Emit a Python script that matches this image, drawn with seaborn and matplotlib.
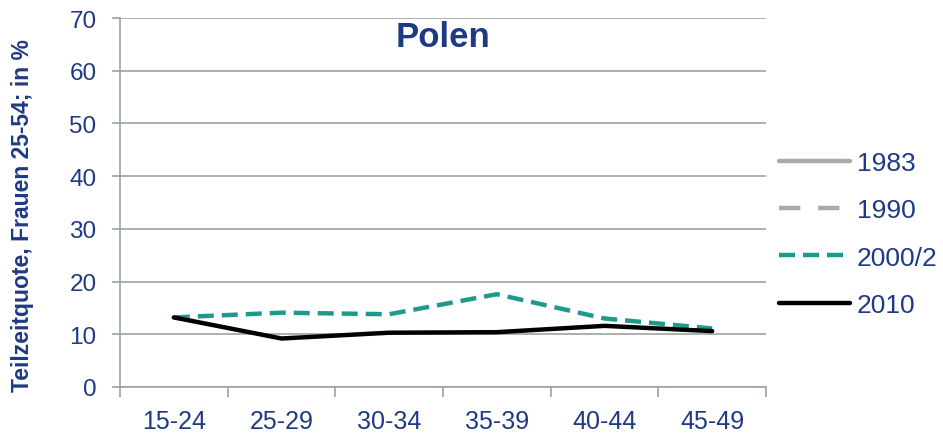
import numpy as np
import pandas as pd
import matplotlib
matplotlib.use("Agg")
import matplotlib.pyplot as plt
from matplotlib.lines import Line2D
import seaborn as sns

# Age groups and part-time rates (women, in %)
age_groups = ["15-24", "25-29", "30-34", "35-39", "40-44", "45-49"]
years = ["1983", "1990", "2000/2", "2010"]
rate_1983 = [np.nan] * 6
rate_1990 = [np.nan] * 6
rate_2000 = [13.2, 14.1, 13.8, 17.6, 13.0, 11.1]
rate_2010 = [13.2, 9.2, 10.3, 10.4, 11.6, 10.6]
y_ticks = [0, 10, 20, 30, 40, 50, 60, 70]

navy = "#1f3a84"
teal = "#1e9a8c"
grey = "#a7abab"
axis_grey = "#9aa3a3"

sns.set_theme(style="white")
plt.rcParams["font.family"] = ["Liberation Sans", "DejaVu Sans"]

fig = plt.figure(figsize=(9.43, 4.39), dpi=100)
ax = fig.add_axes([120 / 943, 1 - 388 / 439, 646 / 943, 369 / 439])

x = np.arange(len(age_groups))
series = {
    "1983": (rate_1983, dict(color=grey, linestyle="-")),
    "1990": (rate_1990, dict(color=grey, linestyle=(0, (4.8, 4.0)))),
    "2000/2": (rate_2000, dict(color=teal, linestyle=(0, (3.6, 1.8)))),
    "2010": (rate_2010, dict(color="black", linestyle="-")),
}
for name, (vals, style) in series.items():
    df = pd.DataFrame({"x": x, "y": vals}).dropna()
    if df.empty:
        continue
    sns.lineplot(data=df, x="x", y="y", ax=ax, lw=3.2, **style)

ax.set_xlim(-0.5, len(age_groups) - 0.5)
ax.set_ylim(0, 70)
ax.set_yticks(y_ticks)
ax.set_yticklabels([str(v) for v in y_ticks], color=navy, fontsize=17.5)
ax.yaxis.grid(True, color=axis_grey, lw=1.2)
ax.set_axisbelow(True)

ax.set_xticks(np.arange(-0.5, len(age_groups)), labels=[""] * (len(age_groups) + 1))
ax.set_xticks(x, labels=age_groups, minor=True)
ax.tick_params(axis="x", which="major", length=7, width=1.2, color=axis_grey, direction="out", bottom=True)
ax.tick_params(axis="x", which="minor", length=0, labelsize=18, labelcolor=navy, pad=16, bottom=True)
ax.tick_params(axis="y", length=6, width=1.2, color=axis_grey, direction="out", left=True, pad=11)

for side in ["top", "right"]:
    ax.spines[side].set_visible(False)
for side in ["left", "bottom"]:
    ax.spines[side].set_color(axis_grey)
    ax.spines[side].set_linewidth(1.2)

ax.set_xlabel("")
ax.set_ylabel("")
fig.text(23 / 943, 1 - 216 / 439, "Teilzeitquote, Frauen 25-54; in %", rotation=90,
         ha="center", va="center", color=navy, fontsize=16.5, fontweight="bold")
ax.text(0.5, 0.95, "Polen", transform=ax.transAxes, ha="center", va="center",
        fontsize=25, fontweight="bold", color=navy)

handles = [Line2D([], [], lw=3.2, **series[y][1]) for y in years]
leg = fig.legend(handles, years, loc="center left", bbox_to_anchor=(779 / 943, 1 - 235 / 439),
                 frameon=False, fontsize=19, handlelength=2.7, handletextpad=0.25,
                 labelspacing=0.88, borderaxespad=0, borderpad=0)
for t in leg.get_texts():
    t.set_color(navy)

fig.savefig("out.png", dpi=100)
